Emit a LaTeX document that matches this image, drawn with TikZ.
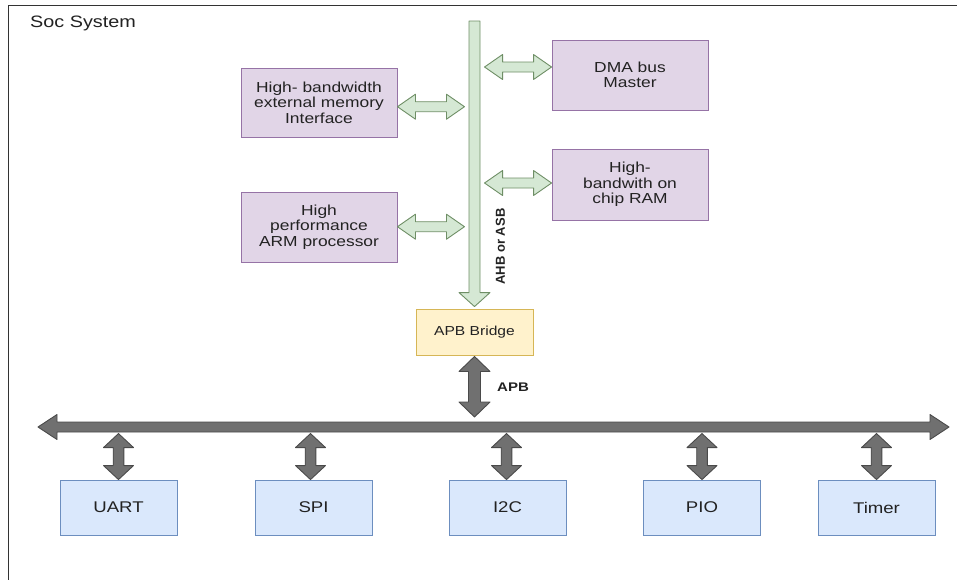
\documentclass[tikz,border=0pt]{standalone}
\usepackage{fontspec}
\setmainfont{Liberation Sans}[FakeStretch=1.2]
\newfontfamily\plainsans{Liberation Sans}
\usetikzlibrary{calc}
\definecolor{purpfill}{HTML}{E1D5E7}
\definecolor{purpline}{HTML}{9673A6}
\definecolor{greenfill}{HTML}{D5E8D4}
\definecolor{greenline}{HTML}{6F8F66}
\definecolor{yelfill}{HTML}{FFF2CC}
\definecolor{yelline}{HTML}{D6B656}
\definecolor{bluefill}{HTML}{DAE8FC}
\definecolor{blueline}{HTML}{6C8EBF}
\definecolor{grayfill}{HTML}{707070}
\definecolor{grayline}{HTML}{4A4A4A}
\definecolor{framecol}{HTML}{333333}
\definecolor{txt}{HTML}{222222}
% double-headed block arrow: style, A, B, shaft half, head half, head length
\newcommand\dblarrow[6]{%
  \coordinate (daA) at (#2);
  \coordinate (daB) at (#3);
  \coordinate (daHa) at ($(daA)!#6!(daB)$);
  \coordinate (daHb) at ($(daB)!#6!(daA)$);
  \draw[#1] (daA) -- ($(daHa)!#5!90:(daB)$) -- ($(daHa)!#4!90:(daB)$)
    -- ($(daHb)!#4!-90:(daA)$) -- ($(daHb)!#5!-90:(daA)$) -- (daB)
    -- ($(daHb)!#5!90:(daA)$) -- ($(daHb)!#4!90:(daA)$)
    -- ($(daHa)!#4!-90:(daB)$) -- ($(daHa)!#5!-90:(daB)$) -- cycle;}
% single-headed block arrow
\newcommand\sglarrow[6]{%
  \coordinate (daA) at (#2);
  \coordinate (daB) at (#3);
  \coordinate (daHb) at ($(daB)!#6!(daA)$);
  \draw[#1] ($(daA)!#4!-90:(daB)$) -- ($(daHb)!#4!90:(daA)$)
    -- ($(daHb)!#5!90:(daA)$) -- (daB) -- ($(daHb)!#5!-90:(daA)$)
    -- ($(daHb)!#4!-90:(daA)$) -- ($(daA)!#4!90:(daB)$) -- cycle;}
\tikzset{
  purpbox/.style={draw=purpline, fill=purpfill, line width=0.9pt, minimum width=156pt,
    minimum height=70pt, inner sep=0pt, align=center, text=txt,
    font=\fontsize{14.5}{15.6}\selectfont},
  bluebox/.style={draw=blueline, fill=bluefill, line width=0.9pt, minimum width=117pt,
    minimum height=55pt, inner sep=0pt, text=txt, font=\fontsize{15.5}{18}\selectfont},
  yelbox/.style={draw=yelline, fill=yelfill, line width=0.9pt, minimum width=117pt,
    minimum height=46pt, inner sep=0pt, text=txt, font=\fontsize{13}{15}\selectfont},
  greenarrow/.style={draw=greenline, fill=greenfill, line width=0.9pt, line join=round},
  grayarrow/.style={draw=grayline, fill=grayfill, line width=0.9pt, line join=round},
}
\begin{document}
\begin{tikzpicture}[x=1pt, y=-1pt]
\clip (0,0) rectangle (957,579);
\fill[white] (0,0) rectangle (957,579);
\draw[framecol, line width=1.2pt] (8.5,5.5) rectangle (990,600);
\node[anchor=base west, text=txt, font=\fontsize{16.5}{19}\selectfont, inner sep=0pt] (title) at (30,27) {Soc System};

% AHB side boxes
\node[purpbox, minimum height=69pt] (mem) at (319,102.5) {High- bandwidth\\external memory\\Interface};
\node[purpbox] (arm) at (319,227) {High\\performance\\ARM processor};
\node[purpbox] (dma) at (630,75) {DMA bus\\Master};
\node[purpbox, minimum height=71pt] (ram) at (630,184.5) {High-\\bandwith on\\chip RAM};
\node[yelbox] (bridge) at (474.5,332) {APB Bridge};

% AHB bus
\coordinate (ahbtop) at (474.5,21);
\sglarrow{greenarrow}{ahbtop}{$(bridge.north)+(0,-2)$}{5.5pt}{15.5pt}{14pt}
\node[rotate=90, text=txt, inner sep=0pt, font=\plainsans\bfseries\fontsize{13}{15}\selectfont] (ahblabel) at (500.5,246.5) {AHB or ASB};

% green connectors to the bus
\dblarrow{greenarrow}{$(mem.east)+(0,4.2)$}{$(mem.east)+(67,4.2)$}{5pt}{12.5pt}{18pt}
\dblarrow{greenarrow}{$(arm.east)+(0,-0.3)$}{$(arm.east)+(67,-0.3)$}{5pt}{12.5pt}{18pt}
\dblarrow{greenarrow}{$(dma.west)+(-67,-8)$}{$(dma.west)+(0,-8)$}{5pt}{12.5pt}{18pt}
\dblarrow{greenarrow}{$(ram.west)+(-67,-1.5)$}{$(ram.west)+(0,-1.5)$}{5pt}{12.5pt}{18pt}

% APB bus
\coordinate (apbL) at (38,427);
\coordinate (apbR) at (949,427);
\dblarrow{grayarrow}{apbL}{apbR}{5pt}{12.5pt}{19pt}
\dblarrow{grayarrow}{$(bridge.south)+(0,1)$}{$(bridge.south |- apbL)+(0,-10)$}{6pt}{15.5pt}{15pt}
\node[anchor=west, text=txt, inner sep=0pt, font=\bfseries\fontsize{12.5}{15}\selectfont] (apblabel) at (497,387) {APB};

% peripherals
\node[bluebox] (uart) at (118.5,507.5) {UART};
\node[bluebox] (spi) at (313.5,507.5) {SPI};
\node[bluebox] (i2c) at (507.5,507.5) {I2C};
\node[bluebox] (pio) at (702,507.5) {PIO};
\node[bluebox] (timer) at (876.5,507.5) {Timer};

\dblarrow{grayarrow}{$(uart.north)+(0,-46)$}{uart.north}{5.3pt}{15pt}{14pt}
\dblarrow{grayarrow}{$(spi.north)+(-3,-46)$}{$(spi.north)+(-3,0)$}{5.3pt}{15pt}{14pt}
\dblarrow{grayarrow}{$(i2c.north)+(-1,-46)$}{$(i2c.north)+(-1,0)$}{5.3pt}{15pt}{14pt}
\dblarrow{grayarrow}{$(pio.north)+(0,-46)$}{pio.north}{5.3pt}{15pt}{14pt}
\dblarrow{grayarrow}{$(timer.north)+(0,-46)$}{timer.north}{5.3pt}{15pt}{14pt}
\end{tikzpicture}
\end{document}
